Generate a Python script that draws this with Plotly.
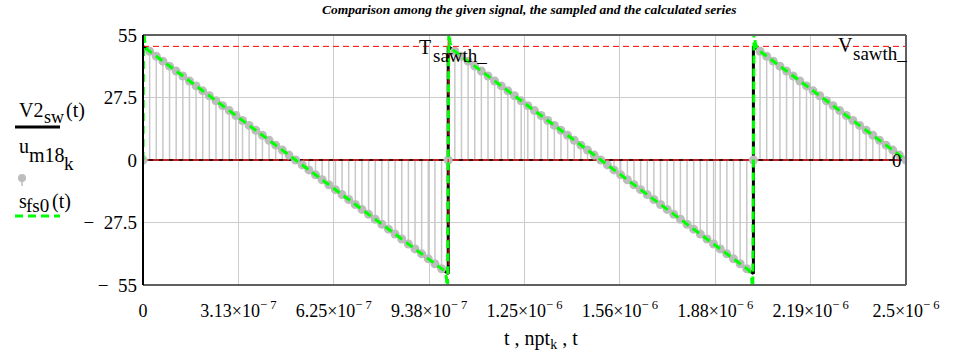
import plotly.graph_objects as go

# ---- data -------------------------------------------------------------
# given sawtooth V2_sw(t): vertices of the ideal waveform
V2_t = [0.0, 1.0e-6, 1.0e-6, 2.0e-6, 2.0e-6, 2.5e-6]
V2_v = [50.0, -50.0, 50.0, -50.0, 50.0, 0.0]

# sampled series u_m18[k] at the instants npt[k] = k*Ts
Ts = 1.0e-6 / 46
u_m18 = [
    0, 47.83, 45.65, 43.48, 41.30, 39.13, 36.96, 34.78, 32.61, 30.43, 28.26, 26.09,
    23.91, 21.74, 19.57, 17.39, 15.22, 13.04, 10.87, 8.70, 6.52, 4.35, 2.17, 0,
    -2.17, -4.35, -6.52, -8.70, -10.87, -13.04, -15.22, -17.39, -19.57, -21.74,
    -23.91, -26.09, -28.26, -30.43, -32.61, -34.78, -36.96, -39.13, -41.30, -43.48,
    -45.65, -47.83,
    0, 47.83, 45.65, 43.48, 41.30, 39.13, 36.96, 34.78, 32.61, 30.43, 28.26, 26.09,
    23.91, 21.74, 19.57, 17.39, 15.22, 13.04, 10.87, 8.70, 6.52, 4.35, 2.17, 0,
    -2.17, -4.35, -6.52, -8.70, -10.87, -13.04, -15.22, -17.39, -19.57, -21.74,
    -23.91, -26.09, -28.26, -30.43, -32.61, -34.78, -36.96, -39.13, -41.30, -43.48,
    -45.65, -47.83,
    0, 47.83, 45.65, 43.48, 41.30, 39.13, 36.96, 34.78, 32.61, 30.43, 28.26, 26.09,
    23.91, 21.74, 19.57, 17.39, 15.22, 13.04, 10.87, 8.70, 6.52, 4.35, 2.17, 0,
]
npt = [k * Ts for k in range(len(u_m18))]

# calculated Fourier series s_fs0(t) (Gibbs overshoot at each jump)
sfs_t = [0.0, 0.002e-6, 0.006e-6, 0.014e-6,
         0.986e-6, 0.994e-6, 0.998e-6, 1.0e-6, 1.002e-6, 1.006e-6, 1.014e-6,
         1.986e-6, 1.994e-6, 1.998e-6, 2.0e-6, 2.002e-6, 2.006e-6, 2.014e-6,
         2.5e-6]
sfs_v = [0.0, 59.0, 51.5, 48.6,
         -48.6, -51.5, -59.0, 0.0, 59.0, 51.5, 48.6,
         -48.6, -51.5, -59.0, 0.0, 59.0, 51.5, 48.6,
         0.0]

# markers
T_sawth = 1.0e-6
V_sawth = 50.0

x_ticks = [0, 3.125e-7, 6.25e-7, 9.375e-7, 1.25e-6, 1.5625e-6, 1.875e-6, 2.1875e-6, 2.5e-6]
x_text = ["0", "3.13×10<sup>− 7</sup>", "6.25×10<sup>− 7</sup>", "9.38×10<sup>− 7</sup>",
          "1.25×10<sup>− 6</sup>", "1.56×10<sup>− 6</sup>", "1.88×10<sup>− 6</sup>",
          "2.19×10<sup>− 6</sup>", "2.5×10<sup>− 6</sup>"]
y_ticks = [55, 27.5, 0, -27.5, -55]
y_text = ["55", "27.5", "0", "−\u200227.5", "−\u200255"]

# ---- layout geometry (pixels) -----------------------------------------
W, H = 973, 359
X0, X1, Y0, Y1 = 143, 906, 35, 285
FONT = "Liberation Serif"


def px(x):
    return (x - X0) / (X1 - X0)


def py(y):
    return (Y1 - y) / (Y1 - Y0)


fig = go.Figure()

# ideal sawtooth
fig.add_trace(go.Scatter(x=V2_t, y=V2_v, mode="lines",
                         line=dict(color="black", width=3), hoverinfo="skip"))

# stems of the sampled series
stem_x, stem_y = [], []
for t, v in zip(npt, u_m18):
    stem_x += [t, t, None]
    stem_y += [0, v, None]
fig.add_trace(go.Scatter(x=stem_x, y=stem_y, mode="lines",
                         line=dict(color="#c8c8c8", width=1.5), hoverinfo="skip"))

# zero line (axis + red marker)
fig.add_trace(go.Scatter(x=[0, 2.5e-6], y=[0, 0], mode="lines",
                         line=dict(color="#3a1010", width=2), hoverinfo="skip"))
fig.add_trace(go.Scatter(x=[0, 2.5e-6], y=[0, 0], mode="lines",
                         line=dict(color="#c02020", width=2, dash="6px,4px"), hoverinfo="skip"))

# sample points
fig.add_trace(go.Scatter(x=npt, y=u_m18, mode="markers",
                         marker=dict(color="#bdbdbd", size=9, line=dict(width=0)),
                         hoverinfo="skip"))

# marker lines V_sawth_ and T_sawth_
fig.add_trace(go.Scatter(x=[0, 2.5e-6], y=[V_sawth, V_sawth], mode="lines",
                         line=dict(color="#ff0000", width=1, dash="6px,4px"), hoverinfo="skip"))
fig.add_trace(go.Scatter(x=[T_sawth, T_sawth], y=[-55, 55], mode="lines",
                         line=dict(color="#ff0000", width=1, dash="6px,4px"), hoverinfo="skip"))

# Fourier series
fig.add_trace(go.Scatter(x=sfs_t, y=sfs_v, mode="lines",
                         line=dict(color="#00ff00", width=3, dash="8px,5px"), hoverinfo="skip"))

axis_common = dict(showgrid=True, gridcolor="#cccccc", gridwidth=1, zeroline=False,
                   ticks="", showline=False)

fig.update_layout(
    width=W, height=H,
    margin=dict(l=X0, r=W - X1, t=Y0, b=H - Y1, pad=0),
    paper_bgcolor="white", plot_bgcolor="white",
    showlegend=False,
    xaxis=dict(range=[0, 2.5e-6], tickvals=x_ticks, ticktext=x_text,
               tickfont=dict(family=FONT, size=18, color="black"),
               ticklabelstandoff=13, **axis_common),
    yaxis=dict(range=[-55, 55], tickvals=y_ticks, ticktext=y_text,
               tickfont=dict(family=FONT, size=19, color="black"),
               ticklabelstandoff=5, **axis_common),
    font=dict(family=FONT, color="black"),
)

# frame
shapes = [
    dict(type="line", xref="paper", yref="paper", x0=0, x1=1, y0=1, y1=1,
         line=dict(color="#606060", width=2)),
    dict(type="line", xref="paper", yref="paper", x0=0, x1=1, y0=0, y1=0,
         line=dict(color="#606060", width=2)),
    dict(type="line", xref="paper", yref="paper", x0=1, x1=1, y0=0, y1=1,
         line=dict(color="#606060", width=2)),
    dict(type="line", xref="paper", yref="paper", x0=0, x1=0, y0=0, y1=1,
         line=dict(color="black", width=2)),
]

# legend samples
shapes.append(dict(type="line", xref="paper", yref="paper",
                   x0=px(15), x1=px(60), y0=py(127), y1=py(127),
                   line=dict(color="black", width=3)))
shapes.append(dict(type="line", xref="paper", yref="paper",
                   x0=px(22), x1=px(22), y0=py(178), y1=py(186),
                   line=dict(color="#bdbdbd", width=1.5)))
shapes.append(dict(type="circle", xref="paper", yref="paper",
                   x0=px(18), x1=px(26), y0=py(174), y1=py(182),
                   fillcolor="#bdbdbd", line=dict(width=0)))
shapes.append(dict(type="line", xref="paper", yref="paper",
                   x0=px(15), x1=px(60), y0=py(216), y1=py(216),
                   line=dict(color="#00ff00", width=3, dash="8px,5px")))
fig.update_layout(shapes=shapes)


def piece(text, x, baseline, size=20, xanchor="left", xref="paper"):
    """Text fragment placed by its left/right pixel edge and baseline."""
    center = baseline - 0.33 * size
    xv = px(x) if xref == "paper" else x
    return dict(text=text, x=xv, y=py(center), xref=xref, yref="paper",
                showarrow=False, xanchor=xanchor, yanchor="middle",
                font=dict(family=FONT, size=size, color="black"))


annotations = [
    dict(text="<b><i>Comparison among the given signal, the sampled and the calculated series</i></b>",
         x=px(529), y=py(10), xref="paper", yref="paper", showarrow=False,
         xanchor="center", yanchor="middle", font=dict(family=FONT, size=13.5, color="black")),
    # legend labels
    piece("V2", 17, 117, 20),
    piece("sw", 42, 123, 18),
    piece("(t)", 64, 117, 20),
    piece("u", 17, 153, 20),
    piece("m18", 27, 162, 20),
    piece("k", 62, 170, 19),
    piece("s", 17, 208, 20),
    piece("fs0", 24, 212, 19),
    piece("(t)", 50, 208, 20),
    # marker labels
    piece("T", 417, 54, 20),
    piece("sawth_", 431, 62, 19),
    piece("V", 836, 52, 20),
    piece("sawth_", 851, 60, 19),
    dict(text="0", x=px(904), y=0, xref="paper", yref="y",
         showarrow=False, xanchor="right", yanchor="middle",
         font=dict(family=FONT, size=19, color="black")),
    # axis title
    dict(text="t , npt<sub>k</sub> , t", x=px(541), y=py(339), xref="paper", yref="paper",
         showarrow=False, xanchor="center", yanchor="middle",
         font=dict(family=FONT, size=20, color="black")),
]
fig.update_layout(annotations=annotations)

fig.write_html("out.html")
